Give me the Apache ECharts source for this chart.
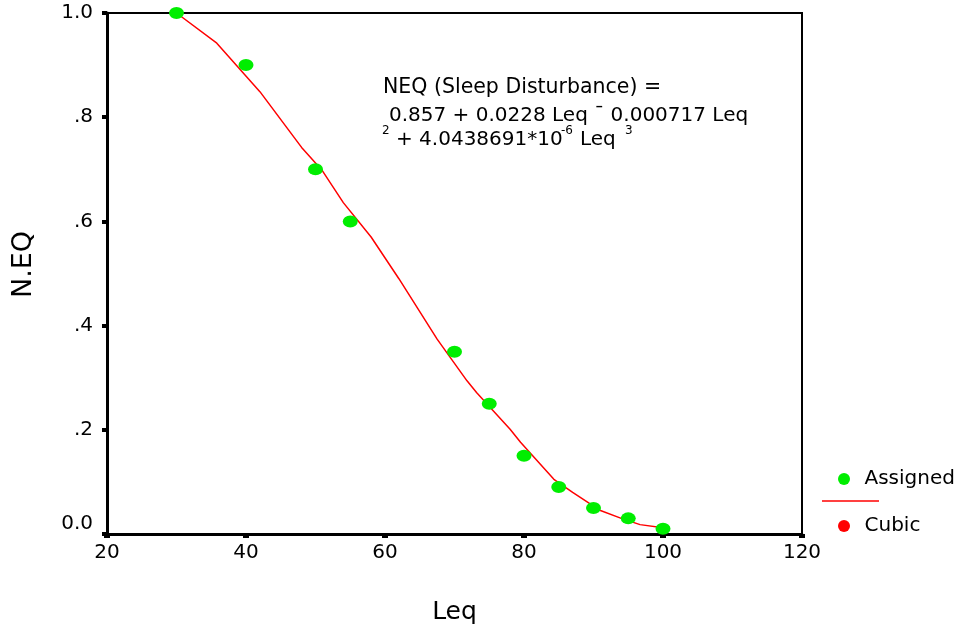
<!DOCTYPE html>
<html>
<head>
<meta charset="utf-8">
<script src="https://cdn.jsdelivr.net/npm/echarts@6/dist/echarts.min.js"></script>
<style>
html,body{margin:0;padding:0;background:#fff;}
#chart{width:966px;height:630px;}
</style>
</head>
<body>
<div id="chart"></div>
<script>
// Observed data (Leq vs N.E.Q)
var leqObserved = [30, 40, 50, 55, 70, 75, 80, 85, 90, 95, 100];
var neqObserved = [1.0, 0.9, 0.7, 0.6, 0.35, 0.25, 0.15, 0.09, 0.05, 0.03, 0.01];

// Cubic fit curve
var leqCurve = [30, 35.8, 42, 48, 51, 54, 58, 62, 67.5, 71.8, 73.2, 78, 79.5, 84.3, 87, 91, 94, 96.7, 100];
var neqCurve = [1.0, 0.942, 0.849, 0.742, 0.697, 0.636, 0.57, 0.49, 0.374, 0.294, 0.271, 0.201, 0.176, 0.105, 0.08, 0.045, 0.03, 0.018, 0.012];

var yTickLabels = {0: '0.0', 0.2: '.2', 0.4: '.4', 0.6: '.6', 0.8: '.8', 1: '1.0'};

var FONT = 'DejaVu Sans';

var scatterData = leqObserved.map(function (x, i) { return [x, neqObserved[i]]; });
var curveData = leqCurve.map(function (x, i) { return [x, neqCurve[i]]; });

var chart = echarts.init(document.getElementById('chart'), null, {renderer: 'canvas'});
chart.setOption({
  animation: false,
  backgroundColor: '#ffffff',
  grid: {
    left: 107, top: 13, right: 164, bottom: 95,
    show: true, borderColor: '#000', borderWidth: 2, backgroundColor: 'transparent'
  },
  xAxis: {
    type: 'value', min: 20, max: 120, interval: 20,
    name: 'Leq', nameLocation: 'middle', nameGap: 66,
    nameTextStyle: {fontFamily: FONT, fontSize: 25, color: '#000'},
    axisLine: {show: true, onZero: false, lineStyle: {color: '#000', width: 3}},
    axisTick: {show: true, length: 4, lineStyle: {color: '#000', width: 6}},
    axisLabel: {margin: 9, fontFamily: FONT, fontSize: 20, color: '#000'},
    splitLine: {show: false}
  },
  yAxis: {
    type: 'value', min: 0, max: 1, interval: 0.2,
    name: 'N.EQ', nameLocation: 'middle', nameGap: 70,
    nameTextStyle: {fontFamily: FONT, fontSize: 27, color: '#000', padding: [0, 0, 0, 18]},
    axisLine: {show: true, onZero: false, lineStyle: {color: '#000', width: 3}},
    axisTick: {show: true, length: 5, lineStyle: {color: '#000', width: 4}},
    axisLabel: {
      margin: 14, fontFamily: FONT, fontSize: 20, color: '#000',
      formatter: function (v) {
        var key = Math.round(v * 10) / 10;
        var t = yTickLabels[key] !== undefined ? yTickLabels[key] : String(v);
        return key === 0 ? '{z|' + t + '}' : t;
      },
      rich: {z: {fontFamily: FONT, fontSize: 20, color: '#000', padding: [0, 0, 20, 0]}}
    },
    splitLine: {show: false}
  },
  legend: {
    orient: 'vertical', left: 833, top: 463, itemGap: 25,
    itemWidth: 15, itemHeight: 12, symbolKeepAspect: false,
    textStyle: {fontFamily: FONT, fontSize: 20, color: '#000', lineHeight: 22, padding: [0, 0, 0, 8]},
    data: [{name: 'Assigned', icon: 'circle'}, {name: 'Cubic', icon: 'circle'}]
  },
  graphic: [
    {type: 'line', shape: {x1: 822, y1: 501, x2: 879, y2: 501}, style: {stroke: '#ff0000', lineWidth: 1.5}},
    {type: 'text', x: 383, y: 88, style: {text: 'NEQ (Sleep Disturbance) =', fontFamily: FONT, fontSize: 20.5, fill: '#000', verticalAlign: 'middle'}},
    {type: 'text', x: 389, y: 115.5, style: {text: '0.857 + 0.0228 Leq \u00af 0.000717 Leq', fontFamily: FONT, fontSize: 20, fill: '#000', verticalAlign: 'middle'}},
    {type: 'text', x: 382, y: 131, style: {text: '2', fontFamily: FONT, fontSize: 12, fill: '#000', verticalAlign: 'middle'}},
    {type: 'text', x: 396, y: 140, style: {text: '+ 4.0438691*10', fontFamily: FONT, fontSize: 20, fill: '#000', verticalAlign: 'middle'}},
    {type: 'text', x: 561, y: 130.5, style: {text: '-6', fontFamily: FONT, fontSize: 12, fill: '#000', verticalAlign: 'middle'}},
    {type: 'text', x: 580, y: 140, style: {text: 'Leq', fontFamily: FONT, fontSize: 20, fill: '#000', verticalAlign: 'middle'}},
    {type: 'text', x: 625, y: 131, style: {text: '3', fontFamily: FONT, fontSize: 12, fill: '#000', verticalAlign: 'middle'}}
  ],
  series: [
    {
      name: 'Cubic', type: 'line', data: curveData, showSymbol: false, symbol: 'none',
      smooth: false, z: 2, color: '#ff0000',
      lineStyle: {color: '#ff0000', width: 1.5},
      itemStyle: {color: '#ff0000'}
    },
    {
      name: 'Assigned', type: 'scatter', data: scatterData, z: 3,
      symbol: 'circle', symbolSize: [15, 12],
      itemStyle: {color: '#00ee00', opacity: 1}
    }
  ]
});
</script>
</body>
</html>
